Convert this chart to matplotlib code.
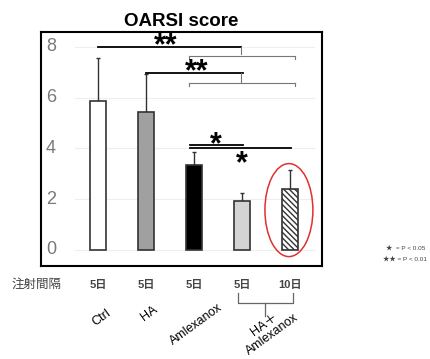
import matplotlib.pyplot as plt
from matplotlib.patches import Ellipse

plt.rcParams['font.family'] = ['Liberation Sans', 'Noto Sans CJK JP', 'DejaVu Sans']

# Dados
grupos = ['Ctrl', 'HA', 'Amlexanox', 'HA+Aml 5', 'HA+Aml 10']
medias = [5.87, 5.43, 3.35, 1.92, 2.40]
erros = [1.69, 1.50, 0.51, 0.34, 0.75]
intervalos = ['5日', '5日', '5日', '5日', '10日']
rotulos = ['Ctrl', 'HA', 'Amlexanox']
yticks = [0, 2, 4, 6, 8]

cores = ['white', '#a0a0a0', 'black', '#d4d4d4', 'white']
hachura = [None, None, None, None, '\\\\\\\\\\\\']

fig = plt.figure(figsize=(4.3, 3.59), dpi=100)
ax = fig.add_axes([41/430, 1 - 266/359, 281/430, 234/359])
x = list(range(len(medias)))

for i in x:
    ax.bar(i, medias[i], width=0.33, color=cores[i], edgecolor='#333333',
           linewidth=1.2, hatch=hachura[i], zorder=3)
ax.errorbar(x, medias, yerr=[[0]*5, erros], fmt='none', ecolor='#333333',
            elinewidth=1, capsize=1.5, zorder=2)

ax.set_xlim(-1.19, 4.67)
ax.set_ylim(-0.63, 8.58)
ax.set_xticks([])
ax.set_yticks([])
for s in ax.spines.values():
    s.set_linewidth(1.5)

for t in yticks:
    ax.plot([-0.48, 4.5], [t, t], color='#eeeeee', lw=0.8, zorder=1)
    ax.text(-0.98, t, str(t), fontsize=13, color='#7a7a7a', ha='center', va='center')

ax.set_title('OARSI score', fontsize=13.5, fontweight='bold', pad=4)

# Significancia
k = dict(color='black', lw=1.3)
s = dict(fontsize=22, fontweight='bold', ha='center', va='center')
ax.plot([0, 2.98], [8.0, 8.0], **k)
ax.text(1.40, 8.02, '**', **s)
g = dict(color='#777777', lw=0.8)
ax.plot([2.98, 2.98], [8.0, 7.7], **g)
ax.plot([1.9, 4.1], [7.62, 7.62], **g)
ax.plot([1.9, 1.9], [7.62, 7.52], **g)
ax.plot([4.1, 4.1], [7.62, 7.52], **g)

ax.plot([1.0, 3.02], [6.96, 6.96], **k)
ax.text(2.06, 6.98, '**', **s)
ax.plot([2.98, 2.98], [6.96, 6.62], **g)
ax.plot([1.9, 4.1], [6.56, 6.56], **g)
ax.plot([1.9, 1.9], [6.56, 6.46], **g)
ax.plot([4.1, 4.1], [6.56, 6.46], **g)

ax.plot([1.92, 3.02], [4.15, 4.15], **k)
ax.text(2.46, 4.14, '*', **s)
ax.plot([1.92, 4.02], [4.0, 4.0], **k)
ax.text(3.0, 3.38, '*', **s)

ax.add_patch(Ellipse((3.98, 1.57), 1.0, 3.66, fill=False, edgecolor='#e03030', lw=1.1, zorder=4))

# Abaixo do eixo
ax.text(-1.28, -1.38, '注射間隔', fontsize=9, color='#444444', ha='center', va='center', clip_on=False)
for i in x:
    ax.text(i, -1.38, intervalos[i], fontsize=8, fontweight='bold', color='#444444',
            ha='center', va='center', clip_on=False)

b = dict(color='#666666', lw=0.9, clip_on=False)
ax.plot([2.92, 2.92, 4.06, 4.06], [-1.68, -2.1, -2.1, -1.68], **b)
ax.plot([3.48, 3.48], [-2.1, -2.6], **b)

pos_rot = [(0.08, -2.65), (1.07, -2.5), (2.05, -2.92)]
for (px, py), r in zip(pos_rot, rotulos):
    ax.text(px, py, r, fontsize=9, rotation=36, ha='center', va='center', clip_on=False)
ax.text(3.55, -3.12, 'HA＋\nAmlexanox', fontsize=9, rotation=36, ha='center', va='center',
        linespacing=1.0, clip_on=False)

fig.text(386/430, 1 - 248/359, '★  = P < 0.05', fontsize=4.6, color='#444444', va='center')
fig.text(383/430, 1 - 259/359, '★★ = P < 0.01', fontsize=4.6, color='#444444', va='center')

fig.savefig('out.png', dpi=100)
